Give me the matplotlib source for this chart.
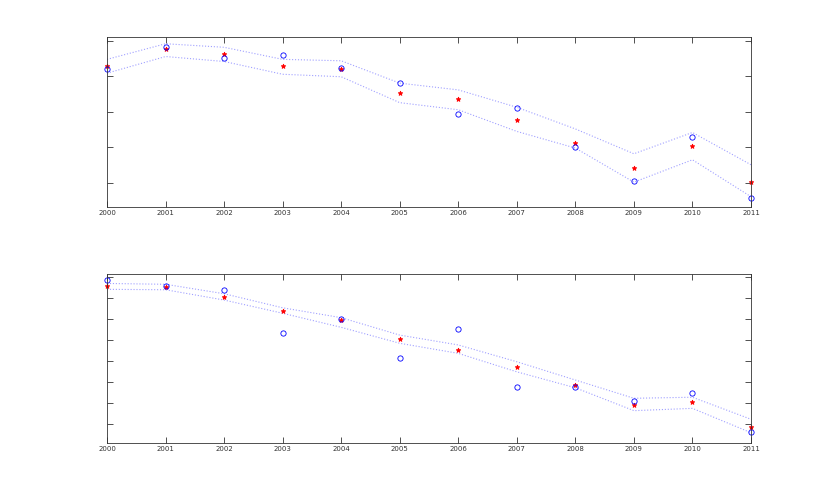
import matplotlib
matplotlib.use("Agg")
import matplotlib.pyplot as plt

years = list(range(2000, 2012))

# top panel
top_fit = [3.28, 3.77, 3.62, 3.28, 3.21, 2.53, 2.36, 1.77, 1.13, 0.41, 1.05, 0.02]
top_obs = [3.20, 3.84, 3.52, 3.61, 3.24, 2.80, 1.94, 2.12, 1.02, 0.06, 1.28, -0.43]
top_hi = [3.48, 3.92, 3.82, 3.48, 3.44, 2.81, 2.62, 2.13, 1.52, 0.82, 1.42, 0.51]
top_lo = [3.09, 3.56, 3.42, 3.06, 2.99, 2.26, 2.06, 1.45, 0.98, 0.02, 0.65, -0.39]

# bottom panel
bot_fit = [6.59, 6.54, 6.05, 5.40, 4.97, 4.06, 3.55, 2.74, 1.87, 0.93, 1.05, -0.11]
bot_obs = [6.87, 6.60, 6.41, 4.36, 5.03, 3.14, 4.55, 1.79, 1.76, 1.12, 1.48, -0.35]
bot_hi = [6.71, 6.67, 6.22, 5.55, 5.08, 4.25, 3.78, 2.98, 2.11, 1.24, 1.29, 0.24]
bot_lo = [6.43, 6.41, 5.92, 5.29, 4.62, 3.86, 3.38, 2.50, 1.74, 0.65, 0.76, -0.40]

fig = plt.figure(figsize=(8.3, 4.98), dpi=100)
W, H = 830, 498
ax1 = fig.add_axes([107 / W, 1 - 207 / H, 644 / W, 170 / H])
ax2 = fig.add_axes([107 / W, 1 - 443 / H, 644 / W, 169 / H])

panels = [
    (ax1, top_fit, top_obs, top_hi, top_lo, (-0.68, 4.11), range(0, 5)),
    (ax2, bot_fit, bot_obs, bot_hi, bot_lo, (-0.89, 7.16), range(0, 8)),
]

for ax, fit, obs, hi, lo, ylim, yt in panels:
    ax.plot(years, hi, linestyle=":", color="#a0a0ff", linewidth=0.8)
    ax.plot(years, lo, linestyle=":", color="#a0a0ff", linewidth=0.8)
    ax.plot(years, fit, linestyle="none", marker="*", color="red",
            markersize=3.5, markeredgewidth=0.6, clip_on=False)
    ax.plot(years, obs, linestyle="none", marker="o", markerfacecolor="none",
            markeredgecolor="blue", markersize=3.8, markeredgewidth=0.6,
            clip_on=False)
    ax.set_xlim(2000, 2011)
    ax.set_ylim(*ylim)
    ax.set_xticks(years)
    ax.set_yticks(list(yt))
    ax.set_yticklabels([])
    ax.tick_params(direction="in", length=4, width=0.6, labelsize=5,
                   top=True, right=True, colors="#333333", pad=2)
    for sp in ax.spines.values():
        sp.set_linewidth(0.6)
        sp.set_color("#333333")

fig.savefig("out.png", dpi=100)
